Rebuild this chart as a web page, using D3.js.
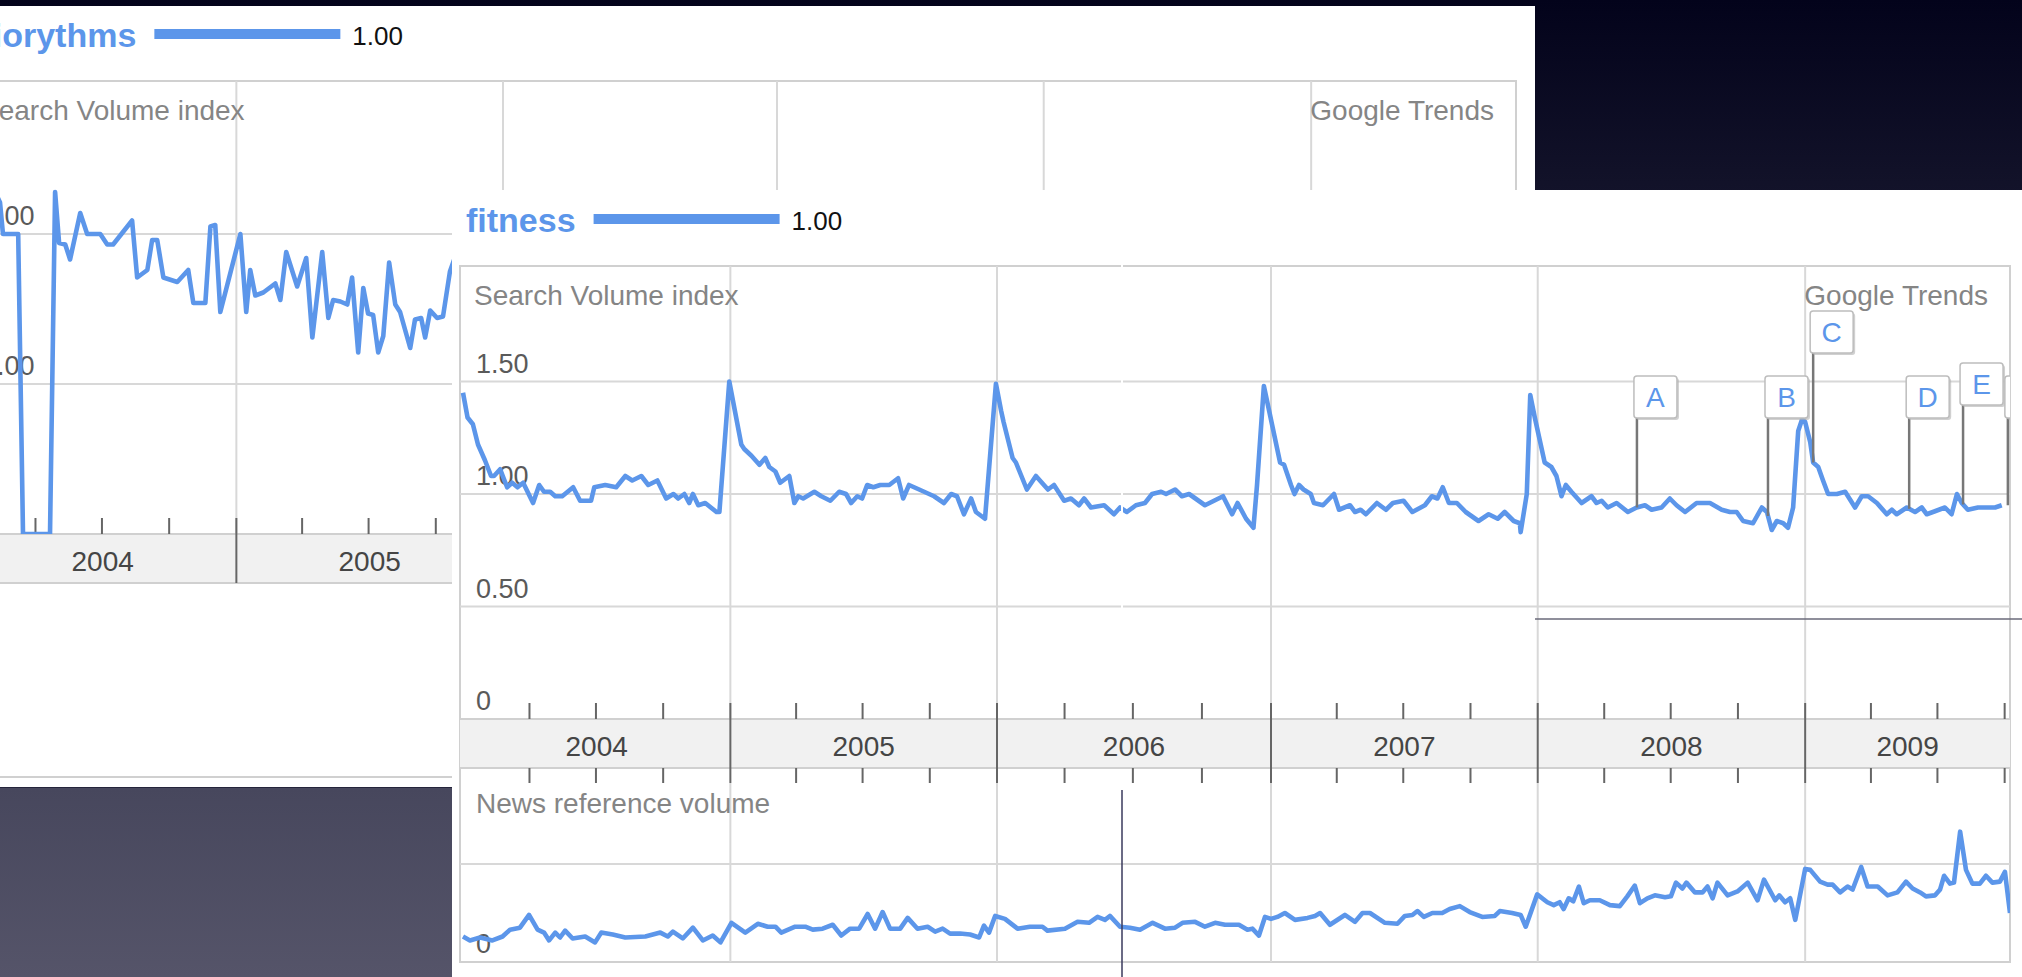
<!DOCTYPE html>
<html><head><meta charset="utf-8">
<script src="https://cdn.jsdelivr.net/npm/d3@7"></script>
<style>html,body{margin:0;padding:0;background:#05051b;overflow:hidden}svg{display:block}</style>
</head><body>
<svg id="c" width="2022" height="977"></svg>
<script>
// ---------------- DATA ----------------
const fitnessYears = [2004.000,2004.017,2004.037,2004.056,2004.082,2004.105,2004.116,2004.139,2004.165,2004.184,2004.204,2004.225,2004.262,2004.285,2004.303,2004.326,2004.345,2004.371,2004.412,2004.438,2004.479,2004.491,2004.532,2004.573,2004.607,2004.633,2004.667,2004.693,2004.727,2004.760,2004.787,2004.805,2004.828,2004.846,2004.860,2004.880,2004.906,2004.948,2004.959,2004.996,
2005.041,2005.052,2005.079,2005.109,2005.131,2005.146,2005.169,2005.187,2005.221,2005.240,2005.255,2005.273,2005.315,2005.341,2005.375,2005.408,2005.434,2005.453,2005.476,2005.494,2005.513,2005.536,2005.562,2005.596,2005.629,2005.648,2005.670,2005.708,2005.764,2005.801,2005.828,2005.850,2005.876,2005.903,2005.921,2005.955,2005.996,
2006.015,2006.024,2006.057,2006.069,2006.109,2006.142,2006.186,2006.208,2006.245,2006.270,2006.299,2006.318,2006.343,2006.391,2006.427,2006.449,2006.474,2006.507,2006.540,2006.566,2006.599,2006.617,2006.650,2006.675,2006.701,2006.759,2006.792,2006.825,2006.858,2006.878,2006.909,2006.936,2006.949,2006.974,
2007.034,2007.049,2007.075,2007.088,2007.105,2007.122,2007.149,2007.161,2007.195,2007.236,2007.255,2007.296,2007.315,2007.336,2007.356,2007.397,2007.431,2007.457,2007.497,2007.530,2007.577,2007.603,2007.624,2007.644,2007.667,2007.697,2007.730,2007.778,2007.816,2007.850,2007.876,2007.910,2007.933,2007.936,2007.959,2007.972,2007.989,
2008.026,2008.051,2008.070,2008.089,2008.105,2008.126,2008.164,2008.201,2008.220,2008.239,2008.262,2008.295,2008.337,2008.370,2008.401,2008.426,2008.463,2008.494,2008.519,2008.551,2008.594,2008.618,2008.644,2008.688,2008.719,2008.744,2008.768,2008.805,2008.838,2008.857,2008.875,2008.894,2008.918,2008.936,2008.955,2008.974,2008.988,
2009.000,2009.019,2009.030,2009.049,2009.067,2009.086,2009.119,2009.150,2009.187,2009.212,2009.236,2009.269,2009.306,2009.325,2009.343,2009.381,2009.412,2009.437,2009.456,2009.479,2009.524,2009.549,2009.569,2009.587,2009.610,2009.648,2009.680,2009.712,2009.737];
const fitnessValues = [1.45,1.34,1.31,1.22,1.15,1.08,1.08,1.11,1.03,1.05,1.03,1.05,0.96,1.04,1.01,1.01,0.99,0.99,1.03,0.97,0.97,1.03,1.04,1.03,1.08,1.06,1.08,1.04,1.06,0.98,1.00,0.98,1.00,0.96,1.00,0.95,0.96,0.92,0.92,1.50,
1.22,1.20,1.17,1.13,1.16,1.12,1.10,1.05,1.08,0.96,0.99,0.98,1.01,0.99,0.97,1.01,1.00,0.96,0.99,0.98,1.04,1.03,1.04,1.04,1.07,0.98,1.04,1.02,0.99,0.96,1.00,0.99,0.91,0.98,0.92,0.89,1.49,
1.37,1.32,1.16,1.14,1.02,1.08,1.02,1.04,0.97,0.98,0.95,0.98,0.94,0.95,0.91,0.94,0.92,0.95,0.96,1.00,1.01,1.00,1.02,0.99,1.00,0.95,0.97,0.99,0.91,0.96,0.89,0.85,1.04,1.48,
1.14,1.13,1.04,1.00,1.04,1.02,1.00,0.96,0.95,1.00,0.93,0.95,0.92,0.93,0.91,0.96,0.93,0.96,0.97,0.92,0.95,0.99,0.98,1.03,0.96,0.96,0.92,0.88,0.91,0.89,0.92,0.88,0.87,0.83,1.00,1.44,1.34,
1.14,1.12,1.08,0.99,1.04,1.01,0.96,0.99,0.96,0.97,0.94,0.96,0.92,0.94,0.95,0.93,0.94,0.98,0.95,0.92,0.96,0.96,0.96,0.93,0.92,0.92,0.88,0.87,0.94,0.92,0.84,0.88,0.87,0.85,0.94,1.28,1.33,
1.32,1.23,1.14,1.12,1.06,1.00,1.00,1.01,0.94,0.99,0.99,0.96,0.91,0.93,0.91,0.94,0.92,0.94,0.91,0.92,0.94,0.91,1.00,0.96,0.93,0.94,0.94,0.94,0.95];

const newsYears = [2004.000,2004.026,2004.064,2004.110,2004.148,2004.176,2004.213,2004.247,2004.279,2004.303,2004.322,2004.345,2004.363,2004.382,2004.410,2004.457,2004.494,2004.517,2004.560,2004.607,2004.682,2004.738,2004.766,2004.785,2004.822,2004.860,2004.897,2004.934,2004.963,
2005.004,2005.056,2005.103,2005.140,2005.169,2005.191,2005.243,2005.281,2005.309,2005.346,2005.384,2005.416,2005.449,2005.483,2005.515,2005.543,2005.571,2005.599,2005.637,2005.665,2005.702,2005.740,2005.768,2005.796,2005.824,2005.861,2005.899,2005.933,2005.951,2005.970,2005.993,
2006.029,2006.075,2006.120,2006.166,2006.184,2006.248,2006.294,2006.336,2006.367,2006.394,2006.412,2006.449,2006.485,2006.522,2006.568,2006.613,2006.650,2006.677,2006.723,2006.759,2006.796,2006.832,2006.883,2006.914,2006.932,2006.956,2006.978,
2007.000,2007.024,2007.052,2007.090,2007.137,2007.165,2007.184,2007.221,2007.277,2007.315,2007.343,2007.371,2007.427,2007.474,2007.502,2007.530,2007.549,2007.573,2007.605,2007.642,2007.670,2007.708,2007.745,2007.792,2007.839,2007.858,2007.904,2007.936,2007.955,2007.998,
2008.036,2008.060,2008.082,2008.097,2008.116,2008.133,2008.154,2008.172,2008.195,2008.232,2008.270,2008.307,2008.335,2008.363,2008.382,2008.410,2008.438,2008.476,2008.498,2008.517,2008.541,2008.556,2008.588,2008.616,2008.635,2008.654,2008.672,2008.710,2008.747,2008.785,2008.822,2008.846,2008.888,2008.903,2008.925,2008.944,2008.963,
2009.000,2009.019,2009.056,2009.084,2009.103,2009.131,2009.159,2009.178,2009.210,2009.234,2009.272,2009.309,2009.346,2009.378,2009.403,2009.431,2009.453,2009.487,2009.506,2009.521,2009.543,2009.558,2009.581,2009.603,2009.627,2009.655,2009.678,2009.702,2009.730,2009.749,2009.768];
const newsValues = [0.26,0.22,0.25,0.22,0.26,0.33,0.35,0.48,0.33,0.30,0.22,0.30,0.25,0.32,0.24,0.26,0.20,0.30,0.28,0.25,0.26,0.30,0.26,0.31,0.24,0.35,0.22,0.27,0.20,
0.40,0.30,0.39,0.36,0.36,0.30,0.36,0.36,0.33,0.34,0.38,0.27,0.34,0.34,0.49,0.34,0.51,0.34,0.34,0.45,0.34,0.36,0.31,0.34,0.29,0.29,0.28,0.25,0.37,0.30,0.47,
0.44,0.34,0.36,0.36,0.32,0.34,0.41,0.40,0.46,0.43,0.47,0.36,0.35,0.33,0.40,0.34,0.35,0.40,0.41,0.36,0.40,0.38,0.38,0.33,0.34,0.27,0.46,
0.44,0.46,0.50,0.43,0.45,0.47,0.50,0.38,0.48,0.41,0.50,0.50,0.40,0.39,0.47,0.48,0.52,0.46,0.50,0.50,0.54,0.57,0.51,0.46,0.47,0.52,0.50,0.48,0.36,0.69,
0.61,0.58,0.61,0.54,0.65,0.62,0.77,0.60,0.63,0.63,0.58,0.57,0.67,0.78,0.60,0.65,0.68,0.66,0.67,0.81,0.75,0.81,0.71,0.71,0.77,0.65,0.81,0.68,0.72,0.81,0.63,0.84,0.63,0.68,0.61,0.65,0.43,
0.95,0.94,0.82,0.79,0.79,0.71,0.77,0.74,0.97,0.77,0.77,0.68,0.71,0.82,0.75,0.71,0.67,0.68,0.74,0.88,0.80,0.81,1.33,0.94,0.80,0.80,0.88,0.81,0.82,0.92,0.50];

const bioYears = [2004.079,2004.116,2004.127,2004.184,2004.202,2004.303,2004.322,2004.337,2004.360,2004.378,2004.416,2004.442,2004.491,2004.517,2004.539,2004.610,2004.629,2004.667,2004.685,2004.704,2004.727,2004.779,2004.820,2004.839,2004.884,2004.903,2004.921,2004.940,
2005.015,2005.037,2005.052,2005.071,2005.101,2005.146,2005.165,2005.187,2005.228,2005.262,2005.285,2005.322,2005.345,2005.363,2005.390,2005.416,2005.434,2005.457,2005.476,2005.494,2005.513,2005.532,2005.551,2005.573,2005.596,2005.614,2005.652,2005.670,2005.693,2005.708,2005.727,2005.753,2005.775,2005.801,2005.831];
const bioValues = [2.35,2.21,2.00,2.00,0,0,2.28,1.94,1.93,1.83,2.14,2.00,2.00,1.93,1.93,2.09,1.71,1.76,1.96,1.96,1.71,1.68,1.76,1.54,1.54,2.05,2.06,1.48,
2.00,1.48,1.76,1.59,1.61,1.67,1.56,1.88,1.65,1.84,1.31,1.88,1.44,1.56,1.55,1.53,1.71,1.21,1.64,1.47,1.46,1.21,1.32,1.81,1.53,1.48,1.24,1.43,1.44,1.31,1.49,1.44,1.45,1.75,1.90];

const fitnessTicks = [0, 0.5, 1, 1.5];
const fitnessTickLabels = ["0", "0.50", "1.00", "1.50"];
const bioTicks = [0, 1, 2];
const bioTickLabels = ["0", "1.00", "2.00"];
const newsTicks = [0, 1];
const newsTickLabels = ["0", ""];
const yearLabels = ["2004", "2005", "2006", "2007", "2008", "2009"];
const annLetters = ["A", "B", "C", "D", "E", "F"];
const annYears = [2008.371, 2008.861, 2009.030, 2009.390, 2009.592, 2009.760];
const legendValue = "1.00";

// ---------------- helpers ----------------
function toDate(t){ const y=Math.floor(t); const a=new Date(y,0,1), b=new Date(y+1,0,1); return new Date(+a+(t-y)*(b-a)); }
const FONT = "'Liberation Sans', Arial, Helvetica, sans-serif";
const BLUE = "#5c96ea";
const GRID = "#d8d8d8";
const LW = 4.6;
const G = {L:460, R:2010, T:266, A:719, BB:768, NB:962, titleY:232};

const x = d3.scaleTime()
  .domain([toDate(2004), toDate(2006), toDate(2007), toDate(2009.768)])
  .range([463, 997, 1271, 2010]);
const xStart = toDate(2004), xEnd = toDate(2009.768);

const svg = d3.select("#c");
const defs = svg.append("defs");
const bg = defs.append("linearGradient").attr("id","bg").attr("x1",0).attr("y1",0).attr("x2",0).attr("y2",1);
bg.append("stop").attr("offset","0").attr("stop-color","#03031b");
bg.append("stop").attr("offset","0.2").attr("stop-color","#13132a");
bg.append("stop").attr("offset","1").attr("stop-color","#2a2a40");
const gr = defs.append("linearGradient").attr("id","gray").attr("x1",0).attr("y1",0).attr("x2",0).attr("y2",1);
gr.append("stop").attr("offset","0").attr("stop-color","#47475d");
gr.append("stop").attr("offset","1").attr("stop-color","#555469");

function drawChart(g, cfg){
  const {L,R,T,A,BB,NB,titleY} = G;
  const y = cfg.y;
  g.append("rect").attr("x",L).attr("y",T).attr("width",R-L).attr("height",NB-T)
    .attr("fill","#fff").attr("stroke","#d0d0d0").attr("stroke-width",2);

  const years = d3.timeYear.range(xStart, xEnd);
  const innerYears = years.filter(d => x(d) > L + 5);
  const quarters = d3.timeMonth.every(3).range(xStart, xEnd).filter(d => d.getMonth() !== 0);

  g.selectAll(null).data(cfg.ticks.filter(v => v > 0)).join("line")
    .attr("x1",L).attr("x2",R).attr("y1",d=>y(d)).attr("y2",d=>y(d))
    .attr("stroke",GRID).attr("stroke-width",2);
  g.selectAll(null).data(innerYears).join("line")
    .attr("x1",d=>x(d)).attr("x2",d=>x(d)).attr("y1",T).attr("y2",A)
    .attr("stroke",GRID).attr("stroke-width",2);

  g.selectAll(null).data(cfg.ticks).join("text")
    .attr("x",L+16).attr("y",d=>y(d)-9)
    .attr("font-family",FONT).attr("font-size",27).attr("fill","#5a5a5a")
    .text((d,i)=>cfg.tickLabels[i]);

  g.append("text").attr("x",L+14).attr("y",T+39).attr("font-family",FONT).attr("font-size",28)
    .attr("fill","#858585").text("Search Volume index");
  g.append("text").attr("x",R-22).attr("y",T+39).attr("text-anchor","end").attr("font-family",FONT)
    .attr("font-size",28).attr("fill","#858585").text("Google Trends");

  g.append("rect").attr("x",L).attr("y",A).attr("width",R-L).attr("height",BB-A).attr("fill","#f1f1f1");
  g.selectAll(null).data([A,BB]).join("line").attr("x1",L).attr("x2",R).attr("y1",d=>d).attr("y2",d=>d)
    .attr("stroke","#d0d0d0").attr("stroke-width",2);
  const tickLow = cfg.news ? BB+15 : BB;
  g.selectAll(null).data(quarters).join("line")
    .attr("x1",d=>x(d)).attr("x2",d=>x(d)).attr("y1",A-16).attr("y2",A)
    .attr("stroke","#666").attr("stroke-width",2);
  if (cfg.news) {
    g.selectAll(null).data(quarters).join("line")
      .attr("x1",d=>x(d)).attr("x2",d=>x(d)).attr("y1",BB).attr("y2",BB+15)
      .attr("stroke","#666").attr("stroke-width",2);
  }
  g.selectAll(null).data(innerYears).join("line")
    .attr("x1",d=>x(d)).attr("x2",d=>x(d)).attr("y1",A-16).attr("y2",tickLow)
    .attr("stroke","#666").attr("stroke-width",2);
  g.selectAll(null).data(years).join("text")
    .attr("x",d=>{ const a=Math.max(L,x(d)); const b=Math.min(R,x(d3.timeYear.offset(d,1))); return (a+b)/2; })
    .attr("y",A+37).attr("text-anchor","middle").attr("font-family",FONT).attr("font-size",28).attr("fill","#454545")
    .text((d,i)=>yearLabels[i]);

  const cid = "clip-" + cfg.id;
  defs.append("clipPath").attr("id",cid).append("rect").attr("x",L).attr("y",T).attr("width",R-L).attr("height",A-T);

  if (cfg.news) {
    const yn = cfg.news.y;
    g.selectAll(null).data(innerYears).join("line")
      .attr("x1",d=>x(d)).attr("x2",d=>x(d)).attr("y1",BB+15).attr("y2",NB)
      .attr("stroke",GRID).attr("stroke-width",2);
    g.selectAll(null).data(newsTicks.filter(v=>v>0)).join("line")
      .attr("x1",L).attr("x2",R).attr("y1",d=>yn(d)).attr("y2",d=>yn(d)).attr("stroke",GRID).attr("stroke-width",2);
    g.append("text").attr("x",L+16).attr("y",BB+45).attr("font-family",FONT).attr("font-size",28)
      .attr("fill","#858585").text("News reference volume");
    g.selectAll(null).data(newsTicks.filter((v,i)=>newsTickLabels[i])).join("text")
      .attr("x",L+16).attr("y",d=>yn(d)-9).attr("font-family",FONT).attr("font-size",27).attr("fill","#5a5a5a")
      .text((d,i)=>newsTickLabels[i]);
    const nid = "clipn-" + cfg.id;
    defs.append("clipPath").attr("id",nid).append("rect").attr("x",L).attr("y",BB).attr("width",R-L).attr("height",NB-BB);
    const nd = cfg.news.years.map((t,i)=>[toDate(t), cfg.news.values[i]]);
    g.append("path").attr("clip-path",`url(#${nid})`).datum(nd)
      .attr("d", d3.line().x(d=>x(d[0])).y(d=>yn(d[1])))
      .attr("fill","none").attr("stroke",BLUE).attr("stroke-width",LW).attr("stroke-linejoin","round");
  }

  const sd = cfg.years.map((t,i)=>[toDate(t), cfg.values[i]]);
  g.append("path").attr("clip-path",`url(#${cid})`).datum(sd)
    .attr("d", d3.line().x(d=>x(d[0])).y(d=>y(d[1])))
    .attr("fill","none").attr("stroke",BLUE).attr("stroke-width",LW).attr("stroke-linejoin","round");

  if (cfg.ann) {
    const lift = {C:65, E:13};
    const bis = d3.bisector(d=>d[0]).left;
    const ag = g.append("g").attr("clip-path",`url(#${cid})`);
    cfg.ann.letters.forEach((ltr,i)=>{
      const dt = toDate(cfg.ann.years[i]);
      const k = Math.max(1, Math.min(sd.length-1, bis(sd, dt)));
      const p0 = sd[k-1], p1 = sd[k];
      const f = (dt - p0[0]) / (p1[0] - p0[0]);
      const val = p0[1] + (p1[1]-p0[1]) * Math.max(0, Math.min(1, f));
      const xs = x(dt);
      const top = y(1.524) - (lift[ltr] || 0);
      ag.append("line").attr("x1",xs).attr("x2",xs).attr("y1",top+40).attr("y2",y(val))
        .attr("stroke","#777").attr("stroke-width",2.5);
      ag.append("rect").attr("x",xs-1).attr("y",top+2).attr("width",43).attr("height",42).attr("rx",3)
        .attr("fill","#b0b0b0").attr("opacity",0.6);
      ag.append("rect").attr("x",xs-3).attr("y",top).attr("width",43).attr("height",42).attr("rx",3)
        .attr("fill","#fff").attr("stroke","#bdbdbd").attr("stroke-width",1.5);
      ag.append("text").attr("x",xs-3+21.5).attr("y",top+31).attr("text-anchor","middle")
        .attr("font-family",FONT).attr("font-size",28).attr("fill",BLUE).text(ltr);
    });
  }

  const tt = g.append("text").attr("x",L+6).attr("y",titleY).attr("font-family",FONT).attr("font-weight","bold")
    .attr("font-size",34).attr("fill",BLUE).text(cfg.title);
  const tw = tt.node().getComputedTextLength();
  const bx = L + 6 + tw + 18;
  g.append("rect").attr("x",bx).attr("y",titleY-18).attr("width",186).attr("height",10).attr("fill",BLUE);
  g.append("text").attr("x",bx+186+12).attr("y",titleY-2).attr("font-family",FONT).attr("font-size",26)
    .attr("fill","#111").text(legendValue);
}

// ---------------- scene ----------------
svg.append("rect").attr("width",2022).attr("height",977).attr("fill","url(#bg)");
svg.append("rect").attr("x",0).attr("y",6).attr("width",1535).attr("height",781).attr("fill","#fff");
const back = svg.append("g").attr("transform","translate(-494,-185)");
drawChart(back, {
  id:"back", title:"biorythms", years:bioYears, values:bioValues,
  y: d3.scaleLinear().domain([0,3]).range([G.A, G.A-450]),
  ticks: bioTicks, tickLabels: bioTickLabels, news:null, ann:null
});
svg.append("rect").attr("x",0).attr("y",788).attr("width",452).attr("height",189).attr("fill","url(#gray)");
svg.append("rect").attr("x",452).attr("y",190).attr("width",1570).attr("height",787).attr("fill","#fff");
const front = svg.append("g");
drawChart(front, {
  id:"front", title:"fitness", years:fitnessYears, values:fitnessValues,
  y: d3.scaleLinear().domain([0,2]).range([G.A, G.A-450]),
  ticks: fitnessTicks, tickLabels: fitnessTickLabels,
  news: {years:newsYears, values:newsValues, y: d3.scaleLinear().domain([0,1]).range([G.NB, G.NB-98])},
  ann: {letters:annLetters, years:annYears}
});
svg.append("rect").attr("x",1121).attr("y",190).attr("width",2).attr("height",429).attr("fill","#fff");
svg.append("line").attr("x1",1122).attr("x2",1122).attr("y1",790).attr("y2",977).attr("stroke","#3a3a5c").attr("stroke-width",1.5);
svg.append("line").attr("x1",1535).attr("x2",2022).attr("y1",619).attr("y2",619).attr("stroke","#6a6a7a").attr("stroke-width",1.5);
</script>
</body></html>
